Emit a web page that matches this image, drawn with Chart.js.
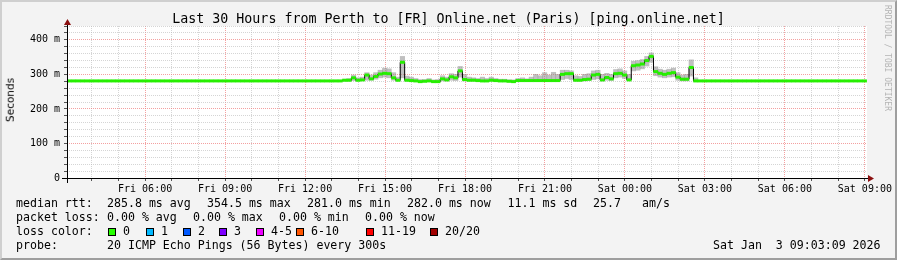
<!DOCTYPE html>
<html>
<head>
<meta charset="utf-8">
<script src="https://cdn.jsdelivr.net/npm/chart.js@4/dist/chart.umd.min.js"></script>
<style>
  body { margin: 0; }
  #wrap {
    position: relative; width: 897px; height: 260px; box-sizing: border-box;
    background: #f3f3f3;
    border-top: 2px solid #cfcfcf; border-left: 2px solid #cfcfcf;
    border-right: 2px solid #9e9e9e; border-bottom: 2px solid #9e9e9e;
    font-family: "DejaVu Sans Mono", monospace; color: #000;
  }
  #c { position: absolute; left: -2px; top: -2px; }
  .t { position: absolute; white-space: pre; line-height: 1; transform: translateY(-50%); font-size: 11.6px; }
  .sw { position: absolute; width: 8px; height: 8px; box-sizing: border-box; border: 1px solid #000; }
</style>
</head>
<body>
<div id="wrap">
  <canvas id="c" width="897" height="260"></canvas>
</div>
<script>
// 10-minute bins, Fri 03:04 -> Sat 09:04 (ms)
const medianRtt = [
  281,281,281,281,281,281,281,281,281,281,281,281,281,281,281,281,281,281,281,281,
  281,281,281,281,281,281,281,281,281,281,281,281,281,281,281,281,281,281,281,281,
  281,281,281,281,281,281,281,281,281,281,281,281,281,281,281,281,281,281,281,281,
  281,281,283,283,290,283,284,298,287,294,301,303,302,290,283,335,283,282,281,279,
  280,281,279,279,287,284,293,290,310,285,283,283,282,281,281,283,282,281,281,280,
  279,282,282,282,282,282,282,282,282,282,282,300,302,302,283,283,285,286,298,300,
  284,291,287,302,303,298,284,325,327,330,340,352,308,303,300,303,305,292,286,286,
  320,281,281,281,281,281,281,281,281,281,281,281,281,281,281,281,281,281,281,281,
  281,281,281,281,281,281,281,281,281,281,281,281,281,281,281,281,281,281,281,281
];
const smokeHi = [
  null,null,null,null,null,null,null,null,null,null,null,null,null,null,null,null,null,null,null,null,
  null,null,null,null,null,null,null,null,null,null,null,null,null,null,null,null,null,null,null,null,
  null,null,null,null,null,null,null,null,null,null,null,null,null,null,null,null,null,null,null,null,
  null,null,286,288,298,290,292,305,298,305,312,318,316,305,292,352,295,292,288,285,
  285,288,284,285,296,292,302,300,323,300,292,290,288,292,288,292,288,286,286,284,
  284,288,290,287,292,300,296,305,298,306,300,312,312,310,296,294,300,302,310,312,
  300,303,300,314,316,310,300,338,340,343,352,362,322,315,312,315,318,305,298,300,
  342,290,null,null,null,null,null,null,null,null,null,null,null,null,null,null,null,null,null,null,
  null,null,null,null,null,null,null,null,null,null,null,null,null,null,null,null,null,null,null,null
];
const smokeLo = [
  null,null,null,null,null,null,null,null,null,null,null,null,null,null,null,null,null,null,null,null,
  null,null,null,null,null,null,null,null,null,null,null,null,null,null,null,null,null,null,null,null,
  null,null,null,null,null,null,null,null,null,null,null,null,null,null,null,null,null,null,null,null,
  null,null,281,281,282,281,282,283,283,286,290,292,290,283,281,290,281,280,279,278,
  279,279,278,278,281,281,283,282,292,281,281,281,280,280,280,281,280,279,279,278,
  278,280,280,280,280,280,280,280,280,280,280,285,288,285,281,281,281,282,285,287,
  281,283,282,290,292,288,282,310,312,316,324,335,296,292,290,292,293,283,281,281,
  295,281,null,null,null,null,null,null,null,null,null,null,null,null,null,null,null,null,null,null,
  null,null,null,null,null,null,null,null,null,null,null,null,null,null,null,null,null,null,null,null
];

// time axis in hours since Fri 00:00
const startHour = 3.07;
const endHour = 33.08;
const binHours = 1 / 6;
const xTickHours = [6, 9, 12, 15, 18, 21, 24, 27, 30, 33];
const xTickLabels = ['Fri 06:00', 'Fri 09:00', 'Fri 12:00', 'Fri 15:00', 'Fri 18:00',
                     'Fri 21:00', 'Sat 00:00', 'Sat 03:00', 'Sat 06:00', 'Sat 09:00'];

const lossLabels = ['0', '1', '2', '3', '4-5', '6-10', '11-19', '20/20'];
const lossColors = ['#26ff00', '#00b8ff', '#0059ff', '#7e00ff', '#ee00ff', '#ff5500', '#ff0000', '#a10000'];

const binX = i => startHour + (i + 0.5) * binHours;
const medianPts = medianRtt.map((v, i) => ({ x: binX(i), y: v }));
const smokePts = [];
smokeHi.forEach((hi, i) => {
  if (hi !== null) smokePts.push({ x: binX(i), y: [smokeLo[i], hi] });
});

const MAJOR = 'rgba(240,120,120,0.7)';
const MINOR = 'rgba(185,185,185,0.6)';
const tickFont = { family: 'DejaVu Sans Mono', size: 10 };

// white canvas, axis lines and arrows like rrdtool
const frame = {
  id: 'frame',
  beforeDraw(chart) {
    const { ctx, chartArea: a } = chart;
    ctx.save();
    ctx.fillStyle = '#fff';
    ctx.fillRect(a.left, a.top, a.right - a.left, a.bottom - a.top);
    ctx.restore();
  },
  afterDatasetsDraw(chart) {
    const { ctx, chartArea: a } = chart;
    ctx.save();
    ctx.strokeStyle = '#000';
    ctx.lineWidth = 1;
    ctx.beginPath();
    ctx.moveTo(a.left - 5, a.bottom + 0.5);
    ctx.lineTo(a.right + 3, a.bottom + 0.5);
    ctx.moveTo(a.left + 0.5, a.bottom + 5);
    ctx.lineTo(a.left + 0.5, a.top - 3);
    ctx.stroke();
    ctx.fillStyle = '#8b1010';
    ctx.beginPath();
    ctx.moveTo(a.left + 0.5, a.top - 7);
    ctx.lineTo(a.left - 3, a.top - 1);
    ctx.lineTo(a.left + 4, a.top - 1);
    ctx.fill();
    ctx.beginPath();
    ctx.moveTo(a.right + 7, a.bottom + 0.5);
    ctx.lineTo(a.right + 1, a.bottom - 3);
    ctx.lineTo(a.right + 1, a.bottom + 4);
    ctx.fill();
    ctx.restore();
  }
};

new Chart(document.getElementById('c'), {
  data: {
    datasets: [
      {
        type: 'bar', data: smokePts, backgroundColor: 'rgba(140,140,140,0.55)',
        borderWidth: 0, barPercentage: 1, categoryPercentage: 1, order: 3
      },
      {
        type: 'line', data: medianPts, borderColor: '#000', borderWidth: 1,
        stepped: 'middle', pointRadius: 0, order: 2
      },
      {
        type: 'line', data: medianPts, showLine: false, pointStyle: 'line',
        pointRadius: 2.4, pointBorderWidth: 3, pointBorderColor: '#26f000',
        pointBackgroundColor: '#26f000', order: 1
      }
    ]
  },
  options: {
    responsive: false,
    animation: false,
    devicePixelRatio: 1,
    layout: { padding: { top: 26, right: 30, left: 0, bottom: 0 } },
    plugins: { legend: { display: false }, tooltip: { enabled: false } },
    scales: {
      x: {
        type: 'linear', min: startHour, max: endHour, offset: false,
        afterFit(s) { s.height = 82; },
        grid: {
          offset: false,
          color: c => (xTickHours.includes(c.tick.value) ? MAJOR : MINOR),
          tickLength: 3, tickColor: '#555'
        },
        border: { display: false, dash: [1, 1] },
        ticks: {
          stepSize: 1, autoSkip: false, maxRotation: 0, includeBounds: false,
          padding: 2, font: tickFont, color: '#000',
          callback: v => {
            const k = xTickHours.indexOf(v);
            return k >= 0 ? xTickLabels[k] : '';
          }
        }
      },
      y: {
        min: 0, max: 440,
        afterFit(s) { s.width = 67; },
        grid: {
          color: c => (c.tick.value % 100 === 0 ? MAJOR : MINOR),
          tickLength: 3, tickColor: '#555'
        },
        border: { display: false, dash: [1, 1] },
        ticks: {
          stepSize: 20, autoSkip: false, padding: 4, font: tickFont, color: '#000',
          callback: v => (v === 0 ? '0' : (v % 100 === 0 ? v + ' m' : ''))
        }
      }
    }
  },
  plugins: [frame]
});

// texts (rrdtool title, legend and comments)
const wrap = document.getElementById('wrap');
function text(str, x, y, style) {
  const el = document.createElement('div');
  el.className = 't';
  el.textContent = str;
  el.style.left = (x - 2) + 'px';
  el.style.top = (y - 2) + 'px';
  if (style) Object.assign(el.style, style);
  wrap.appendChild(el);
  return el;
}

text('Last 30 Hours from Perth to [FR] Online.net (Paris) [ping.online.net]', 0, 19,
  { width: '897px', textAlign: 'center', fontSize: '13.3px' });

const vt = text('Seconds', 10, 100, { fontFamily: 'DejaVu Sans', fontSize: '10.5px' });
vt.style.transform = 'translate(-50%, -50%) rotate(-90deg)';

text('RRDTOOL / TOBI OETIKER', 883, 5,
  { writingMode: 'vertical-rl', fontSize: '8px', color: '#b4b4b4', transform: 'none' });

text('median rtt:', 16, 204);
text('285.8 ms avg', 107, 204);
text('354.5 ms max', 207, 204);
text('281.0 ms min', 307, 204);
text('282.0 ms now', 407, 204);
text('11.1 ms sd', 507.5, 204);
text('25.7', 593, 204);
text('am/s', 642, 204);

text('packet loss:', 16, 218);
text('0.00 % avg', 107, 218);
text('0.00 % max', 193, 218);
text('0.00 % min', 279, 218);
text('0.00 % now', 365, 218);

text('loss color:', 16, 232);
const swatchX = [108, 146, 183, 219, 256, 296, 366, 430];
lossLabels.forEach((lab, k) => {
  const sw = document.createElement('div');
  sw.className = 'sw';
  sw.style.left = (swatchX[k] - 2) + 'px';
  sw.style.top = (228 - 2) + 'px';
  sw.style.background = lossColors[k];
  wrap.appendChild(sw);
  text(lab, swatchX[k] + 15, 232);
});

text('probe:', 16, 246);
text('20 ICMP Echo Pings (56 Bytes) every 300s', 107, 246);
text('Sat Jan  3 09:03:09 2026', 713, 246);
</script>
</body>
</html>
